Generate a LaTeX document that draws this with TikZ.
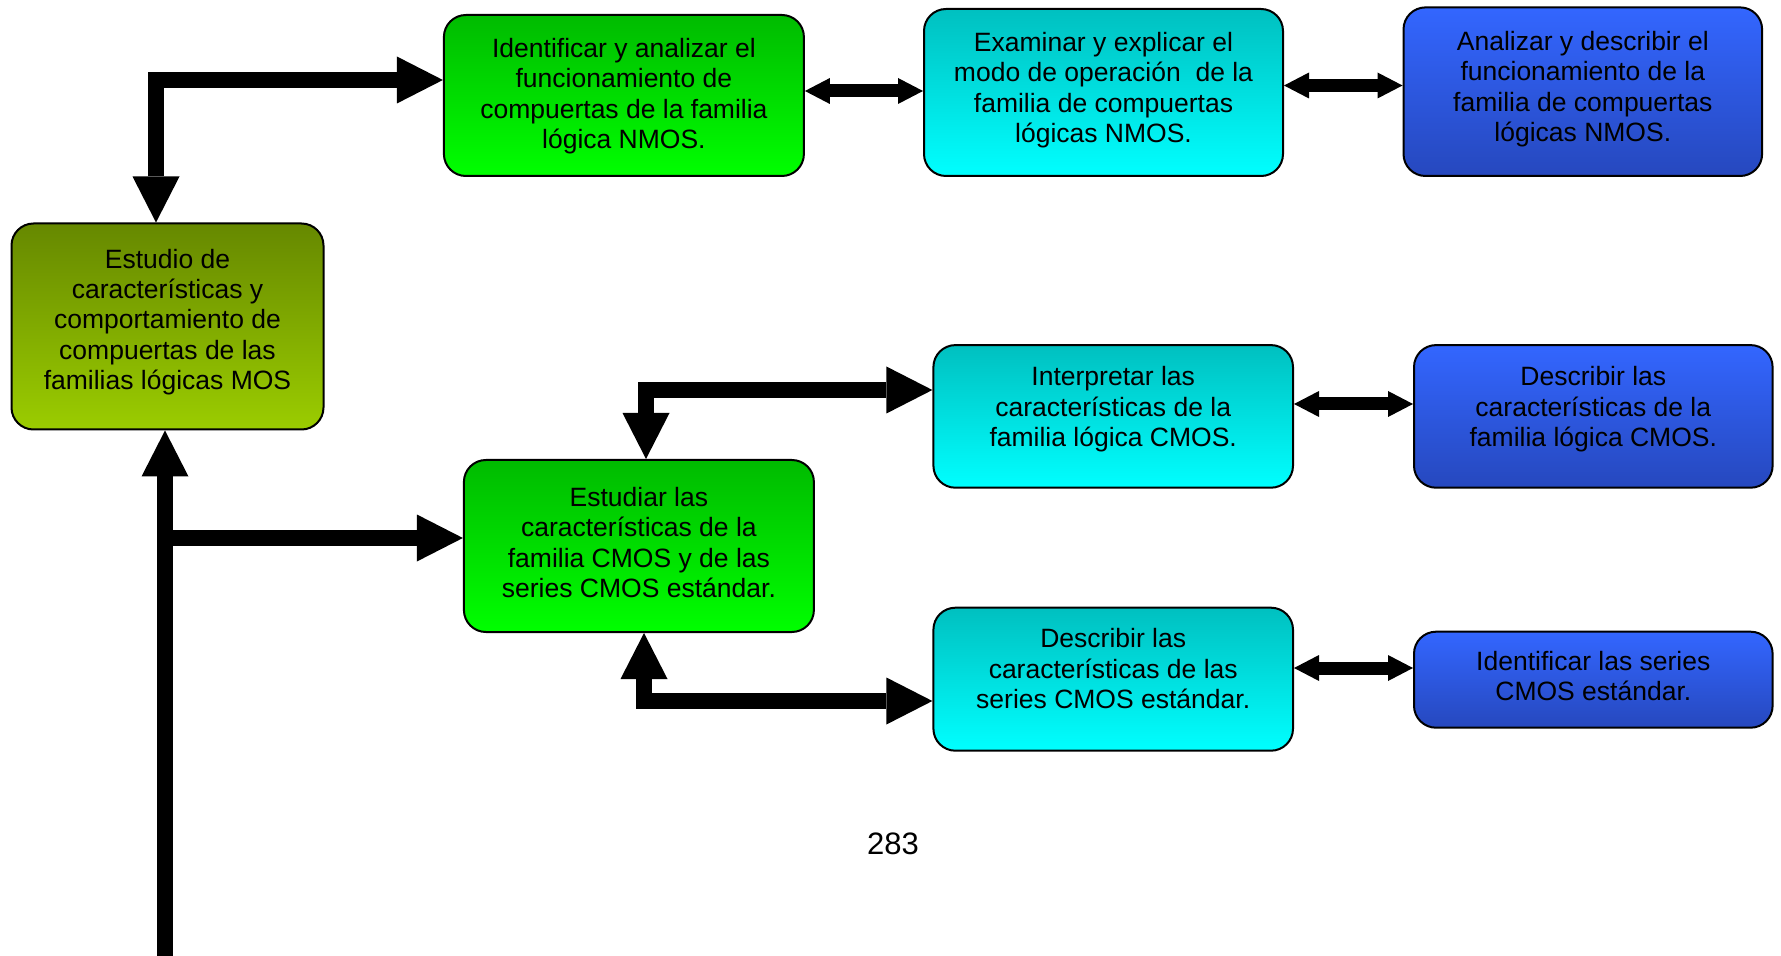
\documentclass[tikz,border=0pt]{standalone}
\usepackage{fontspec}
\setmainfont{Liberation Sans}
\usetikzlibrary{arrows.meta}
\definecolor{olivetop}{RGB}{102,136,0}
\definecolor{olivebot}{RGB}{155,205,0}
\definecolor{greentop}{RGB}{0,187,0}
\definecolor{greenbot}{RGB}{0,255,0}
\definecolor{cyantop}{RGB}{0,192,192}
\definecolor{cyanbot}{RGB}{0,255,255}
\definecolor{bluetop}{RGB}{51,102,255}
\definecolor{bluebot}{RGB}{38,72,190}
% text block raised by #1 while the node keeps its natural extents
\newcommand{\boxtxt}[2]{\raisebox{#1}[\height][\depth]{\begin{tabular}{@{}c@{}}#2\end{tabular}}}
\begin{document}
\begin{tikzpicture}[x=0.5pt,y=-0.5pt,
  box/.style={draw=black, line width=1pt, rounded corners=11pt,
    inner sep=0pt, text=black, font=\fontsize{13.25pt}{15.2pt}\selectfont},
  olivebox/.style={box, top color=olivetop, bottom color=olivebot},
  greenbox/.style={box, top color=greentop, bottom color=greenbot},
  cyanbox/.style={box, top color=cyantop, bottom color=cyanbot},
  bluebox/.style={box, top color=bluetop, bottom color=bluebot},
  bigline/.style={line width=7.75pt, line join=miter, line cap=butt},
  bigboth/.style={bigline, {Triangle[length=23pt,width=23.5pt,line width=0pt]}-{Triangle[length=23pt,width=23.5pt,line width=0pt]}},
  bigend/.style={bigline, -{Triangle[length=23pt,width=23.5pt,line width=0pt]}},
  smallboth/.style={line width=6.5pt, line cap=butt, {Triangle[length=12.5pt,width=13pt,line width=0pt]}-{Triangle[length=12.5pt,width=13pt,line width=0pt]}},
  pagenum/.style={font=\fontsize{15.5pt}{18pt}\selectfont, inner sep=0pt}
]
\useasboundingbox (0,0) rectangle (1781,956);

% boxes
\node[olivebox, minimum width=156pt, minimum height=103pt] (M) at (167.5,326.5)
  {\boxtxt{1.8pt}{Estudio de\\caracter\'isticas y\\comportamiento de\\compuertas de las\\familias l\'ogicas MOS}};
\node[greenbox, minimum width=180pt, minimum height=80.5pt] (A) at (623.9,95.5)
  {\boxtxt{-0.8pt}{Identificar y analizar el\\funcionamiento de\\compuertas de la familia\\l\'ogica NMOS.}};
\node[cyanbox, minimum width=179.5pt, minimum height=83.5pt] (B) at (1103.5,92.5)
  {\boxtxt{0.8pt}{Examinar y explicar el\\modo de operaci\'on\ \ de la\\familia de compuertas\\l\'ogicas NMOS.}};
\node[bluebox, minimum width=179.3pt, minimum height=84.3pt] (C) at (1582.8,91.7)
  {\boxtxt{0.9pt}{Analizar y describir el\\funcionamiento de la\\familia de compuertas\\l\'ogicas NMOS.}};
\node[greenbox, minimum width=175pt, minimum height=86pt] (D) at (638.9,546)
  {\boxtxt{0pt}{Estudiar las\\caracter\'isticas de la\\familia CMOS y de las\\series CMOS est\'andar.}};
\node[cyanbox, minimum width=179.8pt, minimum height=71.3pt] (E) at (1113.2,416.4)
  {\boxtxt{3.2pt}{Interpretar las\\caracter\'isticas de la\\familia l\'ogica CMOS.}};
\node[bluebox, minimum width=179.3pt, minimum height=71.3pt] (F) at (1593.3,416.4)
  {\boxtxt{3.2pt}{Describir las\\caracter\'isticas de la\\familia l\'ogica CMOS.}};
\node[cyanbox, minimum width=179.8pt, minimum height=71.5pt] (G) at (1113.2,679.2)
  {\boxtxt{3.6pt}{Describir las\\caracter\'isticas de las\\series CMOS est\'andar.}};
\node[bluebox, minimum width=179.3pt, minimum height=48pt] (H) at (1593.3,679.7)
  {\boxtxt{0.1pt}{Identificar las series\\CMOS est\'andar.}};

\node[pagenum] (pg) at (893,844) {283};

% bend points
\coordinate (c1) at (156,80);
\coordinate (c2) at (646,390);
\coordinate (c3) at (644,701);
\coordinate (t0) at (165,956);
\coordinate (t1) at (165,538);
\coordinate (k1) at (860,91);
\coordinate (k2) at (1340,85.5);
\coordinate (k3) at (1350,404);
\coordinate (k4) at (1350,668);

% big connectors
\draw[bigboth] (c1 |- M.north) -- (c1) -- (c1 -| A.west);
\draw[bigboth] (c2 |- D.north) -- (c2) -- (c2 -| E.west);
\draw[bigboth] (c3 |- D.south) -- (c3) -- (c3 -| G.west);
\draw[bigend] (t0) -- (t0 |- M.south);
\draw[bigend] (t1) -- (t1 -| D.west);

% small double arrows
\draw[smallboth] (k1 -| A.east) -- (k1 -| B.west);
\draw[smallboth] (k2 -| B.east) -- (k2 -| C.west);
\draw[smallboth] (k3 -| E.east) -- (k3 -| F.west);
\draw[smallboth] (k4 -| G.east) -- (k4 -| H.west);
\end{tikzpicture}
\end{document}
